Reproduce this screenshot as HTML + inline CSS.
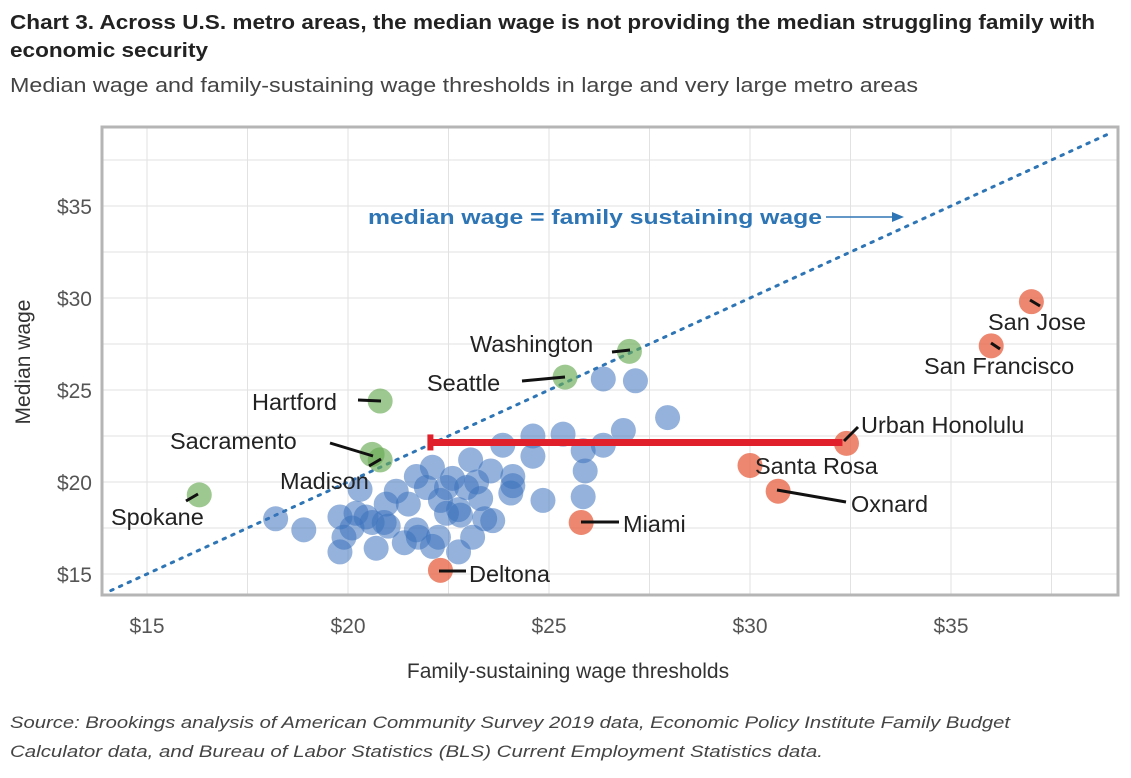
<!DOCTYPE html>
<html><head><meta charset="utf-8"><style>
body{margin:0;background:#fff;}
svg{display:block;font-family:"Liberation Sans",sans-serif;}
</style></head><body>
<svg id="chart" width="1131" height="778" viewBox="0 0 1131 778">
<text x="10" y="29" font-size="20" font-weight="bold" fill="#222" textLength="1085" lengthAdjust="spacingAndGlyphs">Chart 3. Across U.S. metro areas, the median wage is not providing the median struggling family with</text>
<text x="10" y="57" font-size="20" font-weight="bold" fill="#222" textLength="198" lengthAdjust="spacingAndGlyphs">economic security</text>
<text x="10" y="92" font-size="20" fill="#444" textLength="908" lengthAdjust="spacingAndGlyphs">Median wage and family-sustaining wage thresholds in large and very large metro areas</text>
<g id="grid"></g>
<rect x="102" y="127" width="1016" height="468" fill="none" stroke="#b5b5b5" stroke-width="3"/>
<g id="ticks"></g>
<line id="parity" stroke="#2e75b6" stroke-width="3" stroke-dasharray="2.5,7" stroke-linecap="round"/>
<g id="points"></g>
<g id="gap-bar"></g>
<g id="labels"></g>
<text x="368" y="224" font-size="20" font-weight="bold" fill="#2e75b6" textLength="454" lengthAdjust="spacingAndGlyphs">median wage = family sustaining wage</text>
<line x1="826" y1="217" x2="896" y2="217" stroke="#2e75b6" stroke-width="1.5"/>
<polygon points="904,217 892,212 892,222" fill="#2e75b6"/>
<text x="568" y="678" font-size="21" fill="#333" text-anchor="middle">Family-sustaining wage thresholds</text>
<text transform="translate(30,362) rotate(-90)" font-size="21" fill="#333" text-anchor="middle">Median wage</text>
<text x="10" y="728" font-size="17" font-style="italic" fill="#444" textLength="1000" lengthAdjust="spacingAndGlyphs">Source: Brookings analysis of American Community Survey 2019 data, Economic Policy Institute Family Budget</text>
<text x="10" y="757" font-size="17" font-style="italic" fill="#444" textLength="813" lengthAdjust="spacingAndGlyphs">Calculator data, and Bureau of Labor Statistics (BLS) Current Employment Statistics data.</text>
</svg>
<script>
const xTicks=[15,20,25,30,35];
const yTicks=[15,20,25,30,35];
const tickLabels=["$15","$20","$25","$30","$35"];
const blueX=[18.2,18.9,19.8,19.8,20.3,20.7,20.2,21.2,21.4,21.7,22.1,21.95,22.45,22.95,23.2,23.05,23.55,23.85,24.1,24.05,23.6,23.1,22.75,22.25,21.75,24.6,24.6,25.35,24.85,25.85,25.9,25.85,26.35,26.85,27.95,26.35,27.15,20.95,20.45,22.45,22.75,22.1,21.7,20.9,21.5,22.8,23.3,20.1,19.9,22.3,23.4,21.0,20.6,24.1,22.6];
const blueY=[18.0,17.4,18.1,16.2,19.6,16.4,18.3,19.5,16.7,20.3,20.8,19.7,19.7,19.7,20.0,21.2,20.6,22.0,20.3,19.4,17.9,17.0,16.2,17.0,17.0,22.5,21.4,22.6,19.0,21.7,20.6,19.2,22.0,22.8,23.5,25.6,25.5,18.8,18.1,18.3,18.5,16.5,17.4,17.8,18.8,18.2,19.1,17.5,17.0,19.0,18.0,17.6,17.8,19.8,20.2];
const greenNames=["Spokane","Hartford","Sacramento","Madison","Seattle","Washington"];
const greenX=[16.3,20.8,20.6,20.8,25.4,27.0];
const greenY=[19.3,24.4,21.5,21.2,25.7,27.1];
const orangeNames=["Deltona","Miami","Santa Rosa","Oxnard","Urban Honolulu","San Francisco","San Jose"];
const orangeX=[22.3,25.8,30.0,30.7,32.4,36.0,37.0];
const orangeY=[15.2,17.8,20.9,19.5,22.1,27.4,29.8];
const gapStart=22.05, gapEnd=32.3, gapY=22.15;
const X0=147,XS=40.2,Y0=574,YS=18.4;
function sx(v){return X0+(v-15)*XS;}
function sy(v){return Y0-(v-15)*YS;}
const NS="http://www.w3.org/2000/svg";
function mk(tag,attrs,parent){const e=document.createElementNS(NS,tag);for(const k in attrs)e.setAttribute(k,attrs[k]);parent.appendChild(e);return e;}
const grid=document.getElementById('grid');
for(let v=12.5;v<=40;v+=2.5){
 const x=sx(v); if(x>102&&x<1118){const l=mk('line',{x1:x,x2:x,y1:127,y2:595,stroke:'#e2e2e2','stroke-width':1},grid);
 
 }
 const y=sy(v); if(y>127&&y<595){const l=mk('line',{x1:102,x2:1118,y1:y,y2:y,stroke:'#e2e2e2','stroke-width':1},grid);
 
 }
}
const ticks=document.getElementById('ticks');
xTicks.forEach((v,i)=>{const t=mk('text',{x:sx(v),y:633,'font-size':21,fill:'#555','text-anchor':'middle'},ticks);t.textContent=tickLabels[i];
 
 });
yTicks.forEach((v,i)=>{const t=mk('text',{x:92,y:sy(v)+8,'font-size':21,fill:'#555','text-anchor':'end'},ticks);t.textContent=tickLabels[i];
 
 });
const p=document.getElementById('parity');
p.setAttribute('x1',sx(14.1));p.setAttribute('y1',sy(14.1));p.setAttribute('x2',sx(39));p.setAttribute('y2',sy(39));
const pts=document.getElementById('points');
blueX.forEach((v,i)=>{const c=mk('circle',{cx:sx(v),cy:sy(blueY[i]),r:12.5,fill:'rgba(60,115,190,0.55)'},pts);
 
 });
greenX.forEach((v,i)=>{const c=mk('circle',{cx:sx(v),cy:sy(greenY[i]),r:12.5,fill:'rgba(105,170,85,0.65)'},pts);
 
 });
orangeX.forEach((v,i)=>{const c=mk('circle',{cx:sx(v),cy:sy(orangeY[i]),r:12.5,fill:'rgba(232,105,75,0.8)'},pts);
 
 });
const gb=document.getElementById('gap-bar');
const gl=mk('line',{x1:sx(gapStart),x2:sx(gapEnd),y1:sy(gapY),y2:sy(gapY),stroke:'#e0202a','stroke-width':7},gb);


const gc=mk('line',{x1:sx(gapStart),x2:sx(gapStart),y1:sy(gapY)-8,y2:sy(gapY)+8,stroke:'#e0202a','stroke-width':6},gb);


const lab=[
 ["Spokane",111,525,"start",186,501,198,494],
 ["Hartford",252,410,"start",358,400,381,401],
 ["Sacramento",170,449,"start",330,443,373,456],
 ["Madison",280,489,"start",369,466,381,459],
 ["Seattle",427,391,"start",522,381,565,377],
 ["Washington",470,352,"start",612,352,630,350],
 ["Deltona",469,582,"start",439,571,466,571],
 ["Miami",623,532,"start",581,522,619,522],
 ["Santa Rosa",755,474,"start",750,465,750,465],
 ["Oxnard",851,512,"start",777,490,846,502],
 ["Urban Honolulu",861,433,"start",844,441,858,427],
 ["San Francisco",924,374,"start",991,343,1000,349],
 ["San Jose",988,330,"start",1030,300,1040,306]
];
const lg=document.getElementById('labels');
lab.forEach(d=>{
 if(d[4]!==d[6]||d[5]!==d[7]){const l=mk('line',{x1:d[4],y1:d[5],x2:d[6],y2:d[7],stroke:'#111','stroke-width':3},lg);
 
 }
 const t=mk('text',{x:d[1],y:d[2],'font-size':23.5,fill:'#222','text-anchor':d[3]},lg);t.textContent=d[0];
 
 
});
</script>
</body></html>
